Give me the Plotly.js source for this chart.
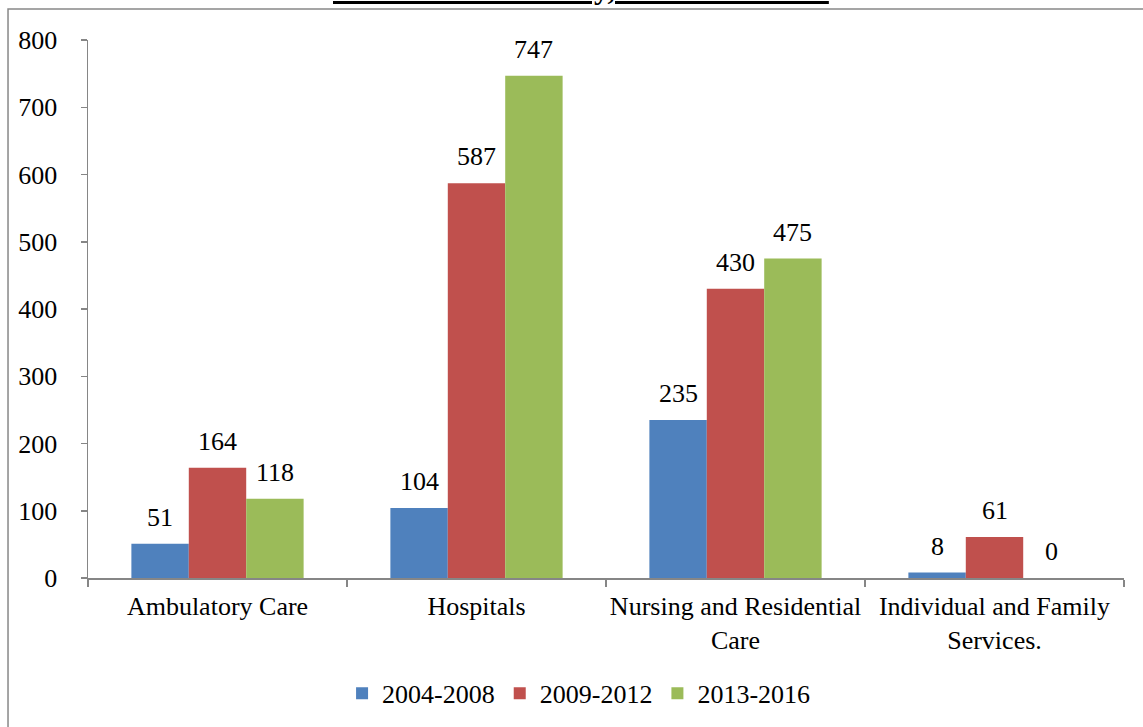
<!DOCTYPE html>
<html><head><meta charset="utf-8">
<script src="https://cdn.plot.ly/plotly-3.0.1.min.js"></script>
<style>body{margin:0;background:#fff}#c{width:1143px;height:727px}</style>
</head><body><div id="c"></div>
<script>
const categories = ["Ambulatory Care", "Hospitals", "Nursing and Residential<br>Care", "Individual and Family<br>Services."];
const seriesNames = ["2004-2008", "2009-2012", "2013-2016"];
const v2004_2008 = [51, 104, 235, 8];
const v2009_2012 = [164, 587, 430, 61];
const v2013_2016 = [118, 747, 475, 0];
const yTicks = [0, 100, 200, 300, 400, 500, 600, 700, 800];
const titleText = "Health Care Industry, FY 2004 to 2016";

const colors = ["#4F81BD", "#C0504D", "#9BBB59"];
const font = "Liberation Serif, Times New Roman, serif";
const FS = 26;
const values = [v2004_2008, v2009_2012, v2013_2016];
const M = {l: 88, r: 19, t: 40, b: 148};
const W = 1143, H = 727, BARGAP = 0.335;
const catPx = (W - M.l - M.r) / categories.length;
const barPx = catPx * (1 - BARGAP) / values.length;

const traces = values.map((v, i) => ({
  type: "bar", name: seriesNames[i], x: categories, y: v,
  marker: {color: colors[i]}, hoverinfo: "none"
}));
const labelAnns = [];
values.forEach((v, i) => v.forEach((val, j) => labelAnns.push({
  x: categories[j], y: val, xref: "x", yref: "y", text: String(val), showarrow: false,
  xanchor: "center", yanchor: "bottom", xshift: (i - 1) * barPx, yshift: 10,
  font: {family: font, size: FS, color: "#000"}
})));

const layout = {
  width: W, height: H, margin: M,
  paper_bgcolor: "#fff", plot_bgcolor: "#fff",
  font: {family: font, size: FS, color: "#000"},
  barmode: "group", bargap: BARGAP, bargroupgap: 0,
  showlegend: true,
  legend: {orientation: "h", x: 0.474, xanchor: "center", y: -0.212, yanchor: "middle",
    font: {family: font, size: FS, color: "#000"}, itemwidth: 30},
  xaxis: {type: "category", showline: true, linecolor: "#868686", linewidth: 1.5,
    ticks: "outside", tickson: "boundaries", ticklen: 7, tickcolor: "#868686", tickwidth: 1.5,
    tickangle: 0, automargin: false,
    tickfont: {family: font, size: FS, color: "#000"}, ticklabelstandoff: 4, fixedrange: true},
  yaxis: {range: [0, 800], tickvals: yTicks, showgrid: false, zeroline: false,
    showline: true, linecolor: "#868686", linewidth: 1.5,
    ticks: "outside", ticklen: 6, tickcolor: "#868686", tickwidth: 1.5,
    tickfont: {family: font, size: FS, color: "#000"}, ticklabelstandoff: 18, fixedrange: true},
  shapes: [{type: "rect", xref: "paper", yref: "paper", x0: -0.0772, x1: 1.1, y0: -0.4, y1: 1.0575,
    line: {color: "#888", width: 1.5}, fillcolor: "rgba(0,0,0,0)", layer: "below"}],
  annotations: labelAnns.concat([{xref: "paper", yref: "paper", x: 0.476, y: 1.062, xanchor: "center", yanchor: "bottom",
    text: "<b><u>" + titleText + "</u></b>", showarrow: false,
    font: {family: font, size: 30, color: "#000"}}])
};
Plotly.newPlot("c", traces, layout, {staticPlot: true, displayModeBar: false});
</script></body></html>
